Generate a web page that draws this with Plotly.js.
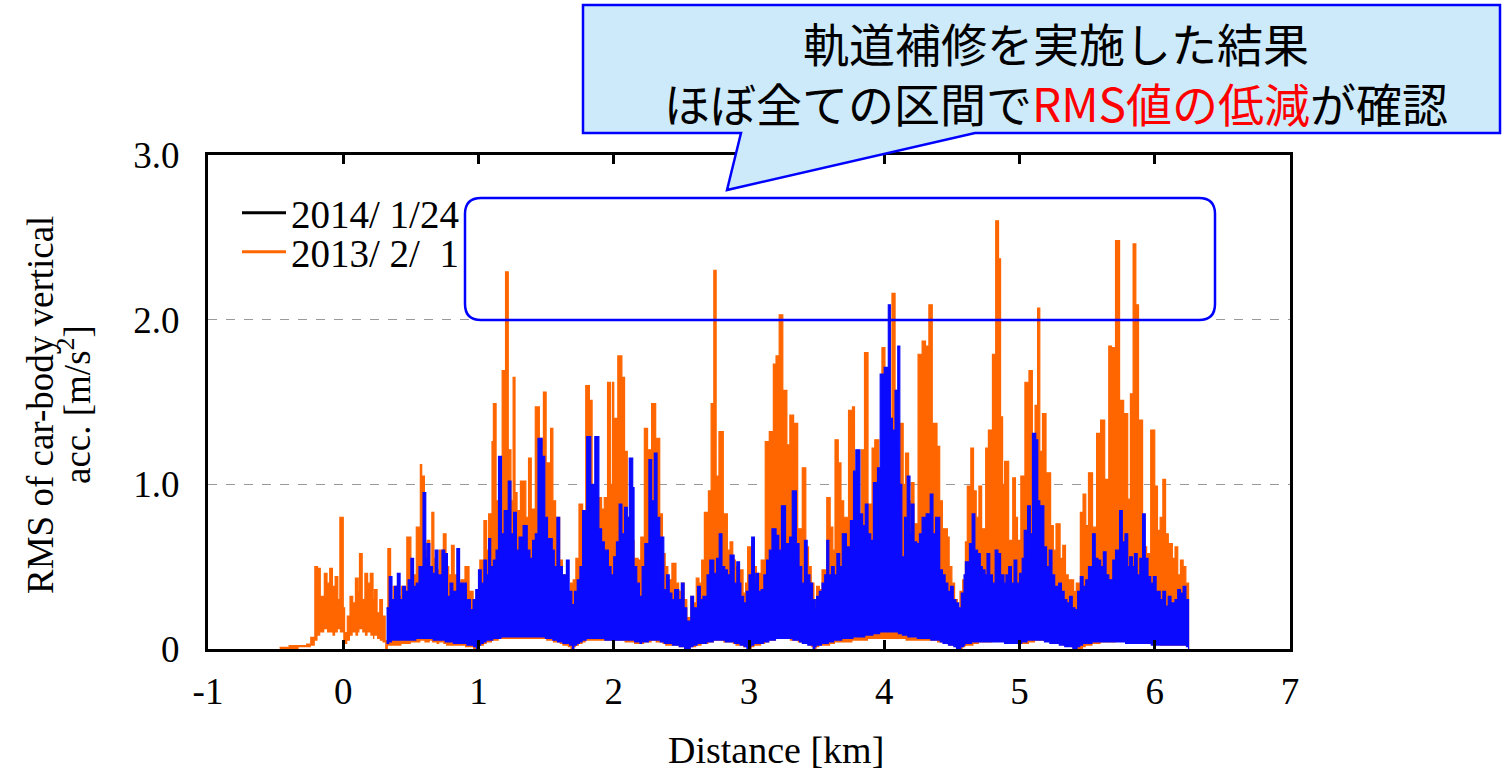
<!DOCTYPE html>
<html>
<head>
<meta charset="utf-8">
<script src="https://cdn.plot.ly/plotly-3.0.1.min.js"></script>
<style>
html,body{margin:0;padding:0;background:#fff;}
#chart{width:1508px;height:775px;}
</style>
</head>
<body>
<div id="chart"></div>
<script>
// ---------------- DATA ----------------
// 2013/2/1 (orange): distance [km], local peak RMS, local floor RMS
const orangeX = [-0.47,-0.40,-0.33,-0.27,-0.24,-0.21,-0.19,-0.17,-0.14,-0.12,-0.10,-0.08,-0.06,-0.04,-0.025,0.0,0.01,0.03,0.05,0.07,0.09,0.11,0.12,0.14,0.16,0.18,0.20,0.22,0.23,0.25,0.27,0.29,0.31,0.33,0.35,0.37,0.40,0.43,0.45,0.47,0.50,0.52,0.54,0.57,0.58,0.60,0.62,0.64,0.655,0.67,0.69,0.71,0.74,0.76,0.78,0.80,0.82,0.84,0.87,0.90,0.93,0.96,0.98,1.01,1.04,1.06,1.075,1.10,1.11,1.13,1.15,1.175,1.20,1.22,1.24,1.256,1.27,1.285,1.31,1.33,1.35,1.37,1.39,1.42,1.45,1.48,1.50,1.533,1.55,1.57,1.60,1.62,1.64,1.66,1.68,1.70,1.72,1.743,1.77,1.793,1.82,1.84,1.86,1.88,1.91,1.93,1.954,1.975,1.99,2.00,2.03,2.06,2.08,2.10,2.12,2.15,2.18,2.20,2.226,2.25,2.28,2.31,2.34,2.36,2.38,2.40,2.43,2.46,2.48,2.50,2.52,2.54,2.57,2.59,2.61,2.63,2.65,2.67,2.70,2.72,2.74,2.757,2.778,2.81,2.84,2.86,2.88,2.90,2.92,2.956,2.975,2.99,3.02,3.04,3.055,3.09,3.12,3.15,3.18,3.20,3.223,3.25,3.28,3.302,3.33,3.36,3.394,3.42,3.44,3.46,3.48,3.50,3.52,3.54,3.575,3.60,3.62,3.636,3.66,3.68,3.70,3.736,3.765,3.78,3.80,3.83,3.854,3.88,3.91,3.93,3.96,3.983,4.005,4.03,4.057,4.08,4.10,4.12,4.14,4.157,4.18,4.20,4.22,4.25,4.28,4.305,4.33,4.355,4.39,4.41,4.43,4.467,4.48,4.50,4.52,4.54,4.56,4.58,4.60,4.614,4.64,4.66,4.68,4.70,4.72,4.75,4.77,4.80,4.824,4.845,4.86,4.875,4.89,4.92,4.95,4.97,4.985,5.01,5.04,5.07,5.095,5.115,5.134,5.15,5.17,5.196,5.23,5.25,5.27,5.30,5.32,5.34,5.36,5.38,5.40,5.42,5.45,5.47,5.49,5.51,5.54,5.57,5.60,5.63,5.66,5.68,5.71,5.74,5.77,5.80,5.82,5.84,5.86,5.88,5.91,5.94,5.97,6.00,6.02,6.04,6.06,6.08,6.10,6.13,6.15,6.17,6.19,6.21,6.23,6.25];
const orangePeak = [0.01,0.02,0.02,0.03,0.07,0.50,0.49,0.32,0.46,0.40,0.49,0.38,0.44,0.30,0.80,0.25,0.10,0.20,0.32,0.28,0.43,0.35,0.58,0.30,0.46,0.40,0.46,0.30,0.36,0.22,0.30,0.20,0.05,0.61,0.30,0.38,0.32,0.38,0.30,0.68,0.38,0.45,0.74,1.12,1.05,0.60,0.66,0.50,0.83,0.55,0.48,0.60,0.70,0.50,0.45,0.63,0.45,0.38,0.42,0.50,0.35,0.28,0.30,0.54,0.78,0.60,0.82,1.26,1.49,0.90,0.66,1.69,2.29,1.21,0.90,1.65,0.95,0.84,1.02,1.02,0.80,1.16,0.85,1.47,1.28,1.56,1.13,1.34,0.90,0.80,0.54,0.45,0.40,0.35,0.40,0.42,0.55,0.88,0.76,1.60,1.51,0.86,0.80,0.92,0.85,0.92,1.62,1.00,1.62,1.40,1.78,1.65,1.20,0.80,0.66,0.55,0.54,0.68,1.34,1.21,1.49,1.28,0.82,0.58,0.50,0.42,0.52,0.40,0.35,0.40,0.30,0.19,0.32,0.28,0.43,0.40,0.54,0.83,0.96,1.49,2.30,1.05,1.32,0.82,0.60,0.65,0.54,0.50,0.48,0.34,0.40,0.62,0.65,0.50,0.46,0.54,1.26,1.32,1.73,1.78,2.03,1.57,1.24,1.42,1.37,0.73,1.10,0.62,0.50,0.40,0.30,0.38,0.36,0.48,0.92,0.74,0.60,1.27,1.13,0.90,0.80,1.45,1.47,1.00,0.78,1.21,1.80,0.88,1.22,1.27,0.96,1.83,1.65,1.40,2.16,1.57,1.20,1.37,1.00,1.19,0.90,1.01,0.76,1.79,1.87,1.84,2.09,1.37,1.23,0.90,0.73,0.68,0.50,0.40,0.30,0.24,0.35,0.42,0.65,0.99,1.22,0.96,0.80,0.99,0.73,1.22,1.33,1.79,2.60,2.37,1.41,1.00,1.14,0.66,1.04,0.80,0.66,1.05,1.62,1.69,0.99,1.48,2.07,1.20,1.43,1.07,0.75,0.60,0.76,0.55,0.63,0.45,0.42,0.42,0.35,0.40,0.83,0.94,0.75,1.07,0.74,1.31,1.39,1.03,1.84,1.83,2.48,1.51,1.43,0.91,1.55,2.46,2.09,1.39,0.62,0.58,1.33,0.99,0.72,0.80,1.03,0.70,0.64,0.55,0.62,0.45,0.54,0.50,0.40,0.0];
const orangeFloor = [0.0,0.0,0.01,0.01,0.02,0.05,0.08,0.10,0.12,0.10,0.10,0.08,0.10,0.12,0.10,0.05,0.03,0.05,0.08,0.10,0.08,0.10,0.12,0.10,0.08,0.10,0.08,0.06,0.08,0.06,0.05,0.04,0.0,0.02,0.02,0.02,0.02,0.03,0.03,0.03,0.04,0.04,0.04,0.05,0.05,0.04,0.04,0.05,0.04,0.04,0.03,0.04,0.03,0.02,0.02,0.02,0.02,0.02,0.02,0.01,0.01,0.0,0.01,0.02,0.03,0.04,0.04,0.05,0.05,0.05,0.06,0.06,0.06,0.06,0.06,0.06,0.06,0.06,0.06,0.06,0.06,0.06,0.06,0.06,0.06,0.06,0.05,0.05,0.04,0.04,0.03,0.02,0.02,0.01,0.0,0.01,0.02,0.03,0.04,0.05,0.05,0.05,0.05,0.05,0.05,0.05,0.05,0.05,0.05,0.05,0.05,0.05,0.04,0.04,0.04,0.03,0.03,0.03,0.04,0.04,0.05,0.04,0.04,0.03,0.02,0.02,0.02,0.02,0.01,0.01,0.0,0.0,0.01,0.01,0.02,0.02,0.03,0.03,0.04,0.04,0.05,0.05,0.05,0.04,0.04,0.04,0.03,0.02,0.02,0.01,0.01,0.0,0.01,0.02,0.02,0.03,0.04,0.05,0.05,0.06,0.06,0.06,0.06,0.05,0.05,0.04,0.04,0.03,0.02,0.01,0.0,0.01,0.02,0.02,0.02,0.03,0.03,0.04,0.04,0.04,0.04,0.04,0.05,0.05,0.05,0.05,0.05,0.06,0.06,0.06,0.06,0.06,0.06,0.06,0.06,0.06,0.06,0.06,0.06,0.05,0.05,0.05,0.05,0.05,0.05,0.05,0.05,0.05,0.04,0.04,0.04,0.03,0.02,0.02,0.01,0.0,0.0,0.01,0.02,0.02,0.02,0.03,0.03,0.04,0.04,0.04,0.04,0.05,0.05,0.05,0.05,0.05,0.05,0.05,0.05,0.04,0.04,0.03,0.03,0.04,0.04,0.05,0.05,0.05,0.05,0.05,0.04,0.04,0.03,0.03,0.02,0.02,0.02,0.01,0.01,0.0,0.0,0.01,0.02,0.02,0.03,0.03,0.04,0.04,0.04,0.04,0.05,0.05,0.05,0.05,0.05,0.04,0.04,0.04,0.04,0.04,0.03,0.03,0.03,0.02,0.02,0.02,0.02,0.02,0.02,0.02,0.02,0.02,0.02,0.01,0.01,0.0];

// 2014/1/24 (blue): distance [km], local peak RMS, local floor RMS
const blueX = [0.32,0.34,0.36,0.38,0.40,0.42,0.44,0.46,0.48,0.50,0.52,0.54,0.56,0.59,0.61,0.62,0.64,0.66,0.68,0.70,0.73,0.75,0.77,0.79,0.81,0.84,0.86,0.89,0.91,0.94,0.96,0.98,1.00,1.02,1.04,1.06,1.075,1.09,1.11,1.13,1.148,1.17,1.19,1.22,1.24,1.26,1.28,1.30,1.33,1.36,1.38,1.40,1.42,1.44,1.47,1.49,1.51,1.545,1.56,1.58,1.60,1.62,1.65,1.67,1.69,1.71,1.73,1.75,1.77,1.80,1.83,1.86,1.89,1.91,1.93,1.96,1.98,2.00,2.02,2.04,2.06,2.08,2.10,2.115,2.14,2.15,2.17,2.19,2.21,2.23,2.26,2.28,2.30,2.32,2.34,2.37,2.39,2.41,2.43,2.45,2.48,2.50,2.52,2.54,2.57,2.59,2.62,2.64,2.66,2.69,2.71,2.74,2.76,2.78,2.80,2.82,2.84,2.86,2.89,2.91,2.93,2.94,2.96,2.98,3.00,3.02,3.04,3.05,3.07,3.09,3.11,3.13,3.15,3.17,3.20,3.22,3.24,3.27,3.30,3.32,3.35,3.37,3.39,3.41,3.43,3.45,3.47,3.49,3.50,3.52,3.54,3.56,3.575,3.59,3.61,3.63,3.65,3.67,3.69,3.72,3.75,3.773,3.79,3.82,3.84,3.86,3.88,3.90,3.92,3.95,3.97,4.00,4.03,4.045,4.06,4.08,4.10,4.115,4.13,4.15,4.17,4.19,4.20,4.22,4.24,4.26,4.28,4.31,4.34,4.36,4.38,4.41,4.43,4.45,4.47,4.49,4.51,4.53,4.55,4.57,4.59,4.60,4.63,4.65,4.67,4.69,4.71,4.725,4.745,4.76,4.78,4.80,4.82,4.84,4.86,4.885,4.90,4.92,4.94,4.96,4.98,5.00,5.02,5.035,5.06,5.08,5.096,5.12,5.135,5.15,5.18,5.20,5.22,5.24,5.26,5.29,5.31,5.33,5.35,5.37,5.39,5.41,5.43,5.45,5.47,5.49,5.51,5.54,5.56,5.58,5.60,5.62,5.64,5.66,5.69,5.71,5.74,5.76,5.78,5.80,5.815,5.835,5.85,5.87,5.89,5.91,5.93,5.95,5.97,5.99,6.01,6.04,6.06,6.08,6.10,6.12,6.15,6.17,6.19,6.21,6.23,6.25];
const bluePeak = [0.25,0.44,0.30,0.38,0.46,0.30,0.38,0.35,0.42,0.55,0.38,0.40,0.50,0.95,0.55,0.64,0.50,0.46,0.60,0.45,0.60,0.58,0.32,0.40,0.35,0.61,0.40,0.40,0.30,0.24,0.30,0.36,0.48,0.40,0.54,0.45,0.67,0.50,0.54,0.60,1.17,0.70,0.84,1.02,0.70,0.83,0.60,0.68,0.75,0.60,0.55,0.66,0.70,1.28,1.17,0.80,0.67,0.60,0.50,0.80,0.50,0.45,0.54,0.35,0.27,0.35,0.42,0.50,0.84,1.29,1.00,1.29,0.73,0.65,0.60,0.50,0.45,0.56,0.65,0.88,0.70,0.86,0.80,1.16,0.98,0.50,0.40,0.32,0.50,0.64,1.15,0.90,1.19,0.80,0.68,0.36,0.45,0.34,0.30,0.36,0.30,0.40,0.25,0.17,0.32,0.25,0.38,0.30,0.32,0.45,0.54,0.46,0.55,0.70,0.50,0.48,0.45,0.57,0.40,0.53,0.40,0.32,0.28,0.35,0.45,0.68,0.40,0.46,0.35,0.36,0.45,0.54,0.60,0.73,0.69,0.60,0.87,0.64,0.68,0.96,0.64,0.50,0.40,0.66,0.45,0.40,0.30,0.24,0.32,0.35,0.40,0.45,0.66,0.45,0.50,0.45,0.58,0.50,0.70,0.62,0.78,1.08,1.21,0.82,0.75,0.88,0.70,0.66,1.01,1.10,1.67,1.71,2.09,1.40,1.33,1.57,1.84,1.00,0.56,0.80,1.05,0.70,0.88,0.65,0.64,0.70,0.80,0.82,0.94,0.70,0.80,0.48,0.45,0.40,0.35,0.38,0.30,0.28,0.25,0.34,0.45,0.53,0.64,0.82,0.60,0.58,0.50,0.48,0.45,0.58,0.45,0.40,0.60,0.58,0.45,0.40,0.45,0.50,0.40,0.54,0.40,0.46,0.55,0.72,0.87,0.70,1.31,1.27,0.90,0.87,0.62,0.50,0.60,0.45,0.38,0.40,0.35,0.30,0.28,0.32,0.25,0.24,0.35,0.44,0.38,0.42,0.50,0.70,0.55,0.54,0.50,0.59,0.45,0.42,0.54,0.60,0.84,0.65,0.70,0.50,0.56,0.50,0.58,0.45,0.55,0.82,0.55,0.44,0.40,0.44,0.35,0.30,0.35,0.26,0.32,0.28,0.30,0.36,0.34,0.38,0.30,0.0];
const blueFloor = [0.03,0.04,0.05,0.05,0.05,0.05,0.05,0.05,0.05,0.05,0.05,0.06,0.06,0.06,0.06,0.06,0.06,0.05,0.05,0.05,0.05,0.04,0.04,0.04,0.03,0.03,0.03,0.03,0.02,0.02,0.01,0.0,0.02,0.03,0.04,0.05,0.05,0.05,0.06,0.06,0.06,0.07,0.07,0.07,0.07,0.07,0.07,0.07,0.07,0.07,0.07,0.07,0.07,0.07,0.07,0.06,0.06,0.05,0.05,0.04,0.04,0.03,0.03,0.02,0.0,0.02,0.03,0.04,0.05,0.06,0.06,0.06,0.06,0.06,0.05,0.05,0.05,0.05,0.05,0.05,0.05,0.05,0.05,0.05,0.05,0.04,0.04,0.03,0.04,0.04,0.05,0.05,0.05,0.05,0.04,0.03,0.03,0.03,0.02,0.02,0.01,0.01,0.0,0.0,0.01,0.02,0.03,0.03,0.03,0.04,0.04,0.05,0.05,0.05,0.05,0.04,0.04,0.04,0.03,0.03,0.02,0.02,0.01,0.0,0.01,0.02,0.03,0.03,0.03,0.03,0.04,0.04,0.05,0.05,0.06,0.06,0.06,0.06,0.06,0.05,0.05,0.04,0.03,0.03,0.02,0.02,0.0,0.01,0.02,0.02,0.03,0.03,0.03,0.04,0.04,0.05,0.05,0.05,0.06,0.06,0.06,0.07,0.07,0.07,0.07,0.08,0.08,0.08,0.09,0.09,0.10,0.10,0.10,0.10,0.10,0.10,0.09,0.09,0.08,0.08,0.07,0.07,0.07,0.07,0.06,0.06,0.06,0.06,0.05,0.05,0.05,0.04,0.03,0.03,0.02,0.02,0.01,0.0,0.0,0.01,0.02,0.03,0.03,0.04,0.04,0.04,0.04,0.04,0.04,0.04,0.04,0.04,0.04,0.04,0.04,0.03,0.03,0.03,0.03,0.03,0.03,0.03,0.04,0.04,0.05,0.05,0.05,0.05,0.05,0.05,0.04,0.04,0.03,0.03,0.03,0.02,0.02,0.01,0.01,0.01,0.0,0.0,0.01,0.02,0.03,0.03,0.03,0.04,0.04,0.04,0.04,0.04,0.04,0.04,0.04,0.04,0.04,0.04,0.03,0.03,0.03,0.03,0.03,0.03,0.03,0.03,0.03,0.03,0.02,0.02,0.02,0.02,0.02,0.02,0.02,0.02,0.02,0.02,0.02,0.02,0.01,0.01,0.0];

const legendNames = ['2014/\u00a01/24', '2013/\u00a02/\u00a0\u00a01'];
const xTickVals = [-1,0,1,2,3,4,5,6,7];
const xTickText = ['-1','0','1','2','3','4','5','6','7'];
const yTickVals = [0,1,2,3];
const yTickText = ['0','1.0','2.0','3.0'];
const calloutText = '軌道補修を実施した結果<br>ほぼ全ての区間で<span style="color:#ff0000">RMS値の低減</span>が確認';
const yTitleLines = ['RMS of car-body vertical', 'acc. [m/s<sup>2</sup>]'];
const xTitle = 'Distance [km]';

// ---------------- layout helpers ----------------
const PL = 208, PR = 1290, PT = 155, PB = 649;
const px = v => (v - PL) / (PR - PL);
const py = v => (PB - v) / (PB - PT);
function pathPx(pts) {
  return pts.map((p, i) => (p[0] === 'Q' ? 'Q' + px(p[1]) + ',' + py(p[2]) + ' ' + px(p[3]) + ',' + py(p[4])
    : (i === 0 ? 'M' : 'L') + px(p[0]) + ',' + py(p[1]))).join(' ') + ' Z';
}

const ORANGE = '#ff6600', BLUE = '#0a0aff';
const traces = [
  // floor (invisible) then peak filled down to floor, drawn as steps like the original trace
  {x: orangeX, y: orangeFloor, type: 'scatter', mode: 'lines', line: {color: ORANGE, width: 0, shape: 'hv'}, showlegend: false, hoverinfo: 'skip'},
  {x: orangeX, y: orangePeak, type: 'scatter', mode: 'lines', line: {color: ORANGE, width: 1.2, shape: 'hv'}, fill: 'tonexty', fillcolor: ORANGE, showlegend: false, hoverinfo: 'skip'},
  {x: blueX, y: blueFloor, type: 'scatter', mode: 'lines', line: {color: BLUE, width: 0, shape: 'hv'}, showlegend: false, hoverinfo: 'skip'},
  {x: blueX, y: bluePeak, type: 'scatter', mode: 'lines', line: {color: BLUE, width: 1.2, shape: 'hv'}, fill: 'tonexty', fillcolor: BLUE, showlegend: false, hoverinfo: 'skip'},
  {x: [null], y: [null], type: 'scatter', mode: 'lines', name: legendNames[0], line: {color: '#000000', width: 3}, legend: 'legend'},
  {x: [null], y: [null], type: 'scatter', mode: 'lines', name: legendNames[1], line: {color: ORANGE, width: 3}, legend: 'legend2'}
];

const serif = 'Liberation Serif, Times New Roman, serif';
const r = 16;
const boxL = 465, boxR = 1215, boxT = 198, boxB = 320;
const roundRect = pathPx([
  [boxL + r, boxT], [boxR - r, boxT], ['Q', boxR, boxT, boxR, boxT + r],
  [boxR, boxB - r], ['Q', boxR, boxB, boxR - r, boxB],
  [boxL + r, boxB], ['Q', boxL, boxB, boxL, boxB - r],
  [boxL, boxT + r], ['Q', boxL, boxT, boxL + r, boxT]
]);
const callout = pathPx([[583, 5], [1500, 5], [1500, 133], [975, 133], [727, 190], [741, 133], [583, 133]]);

const legendCommon = {xanchor: 'left', yanchor: 'middle', bgcolor: 'rgba(0,0,0,0)', borderwidth: 0,
                      font: {family: serif, size: 39, color: '#000'}, itemwidth: 44};
const layout = {
  width: 1508, height: 775,
  margin: {l: PL, r: 1508 - PR, t: PT, b: 775 - PB},
  paper_bgcolor: '#ffffff', plot_bgcolor: '#ffffff',
  showlegend: true,
  legend: Object.assign({x: px(237), y: py(213)}, legendCommon),
  legend2: Object.assign({x: px(237), y: py(252)}, legendCommon),
  xaxis: {range: [-1, 7], tickvals: xTickVals, ticktext: xTickText, ticks: 'inside', ticklen: 9, tickwidth: 3,
          tickcolor: '#000', showline: true, linewidth: 3, linecolor: '#000', mirror: 'ticks', showgrid: false,
          zeroline: false, tickfont: {family: serif, size: 37, color: '#000'}, ticklabelstandoff: 8,
          fixedrange: true},
  yaxis: {range: [0, 3], tickvals: yTickVals, ticktext: yTickText, ticks: '', showline: true, linewidth: 3,
          linecolor: '#000', mirror: true, showgrid: true, gridcolor: '#9a9a9a', griddash: 'dash', gridwidth: 1,
          zeroline: false, tickfont: {family: serif, size: 37, color: '#000'}, ticklabelstandoff: 18,
          fixedrange: true},
  shapes: [
    {type: 'path', xref: 'paper', yref: 'paper', path: roundRect, line: {color: '#0000ff', width: 2.5}, fillcolor: 'rgba(0,0,0,0)', layer: 'above'},
    {type: 'path', xref: 'paper', yref: 'paper', path: callout, line: {color: '#0000ff', width: 2.5}, fillcolor: '#cdeafb', layer: 'above'}
  ],
  annotations: [
    {xref: 'paper', yref: 'paper', x: px(776), y: py(750), text: xTitle, showarrow: false,
     font: {family: serif, size: 38, color: '#000'}, xanchor: 'center', yanchor: 'middle'},
    {xref: 'paper', yref: 'paper', x: px(40), y: py(405), text: yTitleLines[0],
     textangle: -90, showarrow: false, font: {family: serif, size: 37, color: '#000'}, xanchor: 'center', yanchor: 'middle'},
    {xref: 'paper', yref: 'paper', x: px(74), y: py(405), text: yTitleLines[1],
     textangle: -90, showarrow: false, font: {family: serif, size: 37, color: '#000'}, xanchor: 'center', yanchor: 'middle'},
    {xref: 'paper', yref: 'paper', x: px(1056), y: py(72), text: calloutText, showarrow: false,
     font: {family: 'Noto Sans CJK JP, sans-serif', size: 46, color: '#000'}, xanchor: 'center', yanchor: 'middle'}
  ]
};

Plotly.newPlot('chart', traces, layout, {displayModeBar: false, staticPlot: true});
</script>
</body>
</html>
